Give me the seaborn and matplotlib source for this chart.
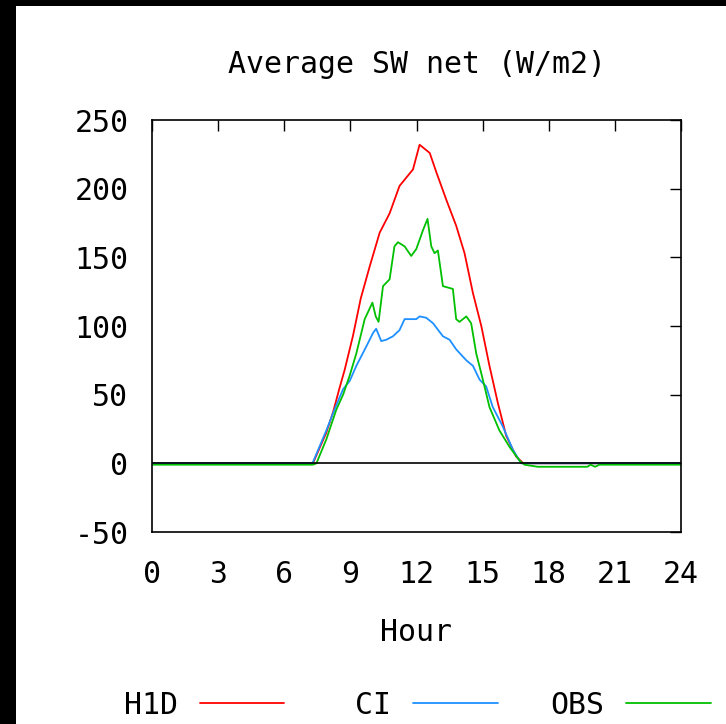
import matplotlib
matplotlib.use("Agg")
import matplotlib.pyplot as plt
import seaborn as sns
import pandas as pd
from matplotlib.patches import Rectangle

# ---- data ----
H_H1D = [0, 7.3, 7.9, 8.21, 8.51, 8.74, 9.12, 9.47, 9.87, 10.33, 10.78, 11.23, 11.84, 12.14,
         12.6, 12.9, 13.35, 13.8, 14.18, 14.56, 14.94, 15.31, 15.69, 16.07, 16.52, 16.85, 24]
V_H1D = [0, 0, 22, 37, 55, 68, 93, 120, 143, 168, 182, 202, 214, 232,
         226, 212, 192, 173, 153, 124, 100, 71, 44, 20, 5, 0, 0]

H_CI = [0, 7.28, 7.91, 8.3, 8.67, 8.97, 9.27, 9.72, 10.03, 10.17, 10.4, 10.63, 10.93, 11.23,
        11.46, 11.99, 12.14, 12.44, 12.75, 13.2, 13.5, 13.8, 14.26, 14.56, 14.86, 15.16,
        15.46, 15.91, 16.37, 16.75, 24]
V_CI = [0, 0, 24, 40, 54, 60, 71, 85, 95, 98, 89, 90, 92.5, 97,
        105, 105, 107, 106, 102, 92.5, 90, 83, 75, 71, 61, 56,
        41, 27, 10, 0, 0]

H_OBS = [0, 7.3, 7.46, 7.91, 8.36, 8.67, 8.97, 9.27, 9.65, 10.0, 10.15, 10.28, 10.48, 10.78,
         11.0, 11.16, 11.46, 11.76, 11.99, 12.3, 12.5, 12.67, 12.82, 12.97, 13.2, 13.65,
         13.8, 13.95, 14.26, 14.48, 14.71, 15.01, 15.31, 15.76, 16.22, 16.67, 16.9, 17.5,
         19.75, 19.9, 20.1, 20.3, 20.45, 24]
V_OBS = [-1, -1, 0, 17.5, 39, 50, 64, 80, 105, 117, 107, 103, 129, 134,
         158, 161, 158, 151, 156, 170, 178, 158, 153, 155, 129, 127,
         105, 103, 107, 102, 80, 61, 41, 24, 12, 2, -1, -2.5,
         -2.5, -1, -2.5, -1, -1, -1]

SERIES = ["H1D", "CI", "OBS"]
LEGEND_LABELS = ["H1D", " CI", "OBS"]
COLORS = {"H1D": "#ff0000", "CI": "#1e90ff", "OBS": "#00c000"}
X_TICKS = [0, 3, 6, 9, 12, 15, 18, 21, 24]
Y_TICKS = [-50, 0, 50, 100, 150, 200, 250]
TITLE = "Average SW net (W/m2)"
XLABEL = "Hour"

# ---- figure ----
sns.set_style("white")
plt.rcParams["font.family"] = ["DejaVu Sans Mono"]
plt.rcParams["axes.unicode_minus"] = False
FS = 21.5

fig = plt.figure(figsize=(7.26, 7.24), dpi=100)
ax = fig.add_axes([152 / 726, 1 - 532 / 724, (681 - 152) / 726, (532 - 120) / 724])

frames = {
    "H1D": pd.DataFrame({"Hour": H_H1D, "value": V_H1D}),
    "CI": pd.DataFrame({"Hour": H_CI, "value": V_CI}),
    "OBS": pd.DataFrame({"Hour": H_OBS, "value": V_OBS}),
}
for name, lab in zip(SERIES, LEGEND_LABELS):
    sns.lineplot(data=frames[name], x="Hour", y="value", color=COLORS[name],
                 linewidth=1.3, estimator=None, sort=False, label=lab, ax=ax, zorder=2)

ax.axhline(0, color="black", linewidth=1.2, zorder=3)

ax.set_xlim(0, 24)
ax.set_ylim(-50, 250)
ax.set_xticks(X_TICKS)
ax.set_yticks(Y_TICKS)
ax.tick_params(axis="both", direction="in", length=8, width=1.0, color="black",
               labelsize=FS, labelcolor="black", top=True, right=True)
ax.tick_params(axis="x", pad=20)
ax.tick_params(axis="y", pad=17)
for s in ax.spines.values():
    s.set_color("black")
    s.set_linewidth(1.2)
    s.set_visible(True)

ax.set_title(TITLE, fontsize=FS, pad=34, color="black")
ax.set_xlabel(XLABEL, fontsize=FS, labelpad=21, color="black")
ax.set_ylabel("")

leg = ax.legend(loc="center", bbox_to_anchor=(417.5 / 726, 19 / 724),
                bbox_transform=fig.transFigure, ncol=3, frameon=False,
                markerfirst=False, handlelength=2.83, handletextpad=0.73,
                columnspacing=1.77, fontsize=FS, borderpad=0, borderaxespad=0)
for t in leg.get_texts():
    t.set_color("black")

# black strips at the top and left of the original image
fig.patches.append(Rectangle((0, 0), 16 / 726, 1, transform=fig.transFigure,
                             facecolor="black", edgecolor="none", zorder=10))
fig.patches.append(Rectangle((0, 1 - 6 / 724), 1, 6 / 724, transform=fig.transFigure,
                             facecolor="black", edgecolor="none", zorder=10))

fig.savefig("out.png", dpi=100, facecolor="white")
